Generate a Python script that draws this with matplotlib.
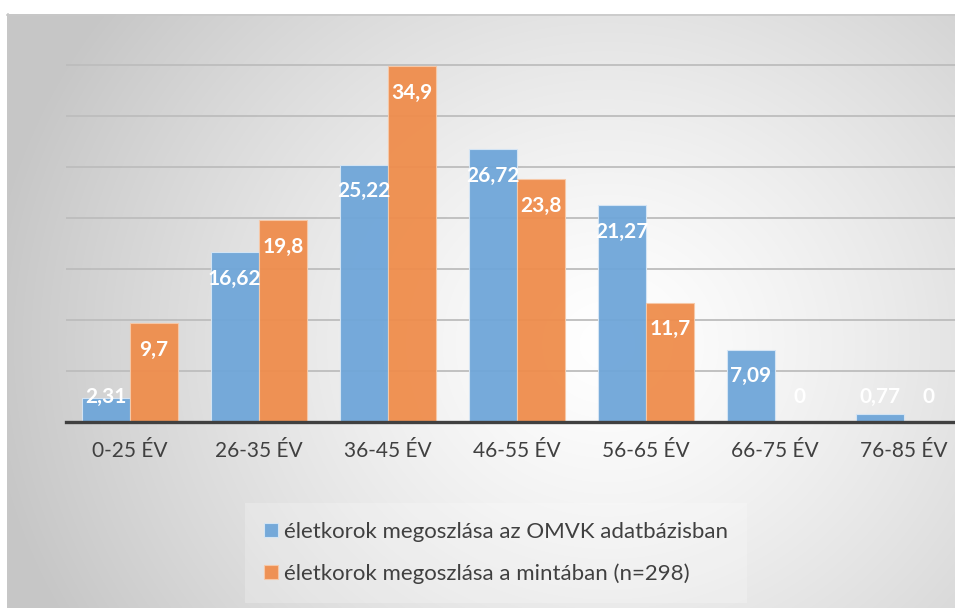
import matplotlib
matplotlib.use('Agg')
import matplotlib.pyplot as plt
import numpy as np

plt.rcParams['font.family'] = ['Lato', 'DejaVu Sans']

categories = ['0-25 ÉV', '26-35 ÉV', '36-45 ÉV', '46-55 ÉV', '56-65 ÉV', '66-75 ÉV', '76-85 ÉV']
omvk = [2.31, 16.62, 25.22, 26.72, 21.27, 7.09, 0.77]
minta = [9.7, 19.8, 34.9, 23.8, 11.7, 0, 0]
omvk_labels = ['2,31', '16,62', '25,22', '26,72', '21,27', '7,09', '0,77']
minta_labels = ['9,7', '19,8', '34,9', '23,8', '11,7', '0', '0']
series_names = ['életkorok megoszlása az OMVK adatbázisban',
                'életkorok megoszlása a mintában (n=298)']

blue = '#6fa6d9'
orange = '#ef8d4c'
text_color = '#404040'

W, H = 955, 608
fig = plt.figure(figsize=(W / 100, H / 100), dpi=100)
fig.patch.set_facecolor('white')

# radial gradient background of the chart area
bg = fig.add_axes([7 / W, 0, (W - 7) / W, (H - 14) / H])
bg.set_axis_off()
yy, xx = np.mgrid[0:594, 0:948]
cx, cy = 600, 330
d = np.sqrt((xx - cx) ** 2 + ((yy - cy) * 1.1) ** 2)
g = 1.0 - 0.22 * np.clip(d / 620, 0, 1) ** 1.3
bg.imshow(np.dstack([g, g, g]), aspect='auto', interpolation='bilinear')
# border lines
fig.add_artist(plt.Line2D([7 / W, 1], [(H - 14.5) / H] * 2, color='#c8c8c8', lw=1.2))
fig.add_artist(plt.Line2D([7.5 / W] * 2, [0, (H - 14) / H], color='#c8c8c8', lw=1.2))

# main axes
group_px = 129
left_px = 65.5
base_px = 422
px_per_unit = 10.2
ymax = 36
ax = fig.add_axes([left_px / W, (H - base_px) / H, 7 * group_px / W, ymax * px_per_unit / H])
ax.set_facecolor('none')
ax.set_xlim(-0.5, 6.5)
ax.set_ylim(0, ymax)

x = np.arange(len(categories))
off = 0.187
bw = 0.37
ax.bar(x - off, omvk, bw, color=blue, alpha=0.95, edgecolor='#d6e6f5', linewidth=0.8,
       label=series_names[0], zorder=3)
ax.bar(x + off, minta, bw, color=orange, alpha=0.95, edgecolor='#f7c9a8', linewidth=0.8,
       label=series_names[1], zorder=3)

for i in range(len(categories)):
    ax.text(x[i] - off, max(omvk[i] - 2.6, 2.45), omvk_labels[i], ha='center', va='center',
            color='white', fontsize=15, fontweight='bold', zorder=5)
    ax.text(x[i] + off, max(minta[i] - 2.6, 2.45), minta_labels[i], ha='center', va='center',
            color='white', fontsize=15, fontweight='bold', zorder=5)

for yv in range(5, 36, 5):
    ax.axhline(yv, color='#bdbdbd', lw=1.3, zorder=1)
ax.axhline(0, color='#404040', lw=2.4, zorder=4, clip_on=False)

for s in ax.spines.values():
    s.set_visible(False)
ax.set_yticks([])
ax.set_xticks(x)
ax.set_xticklabels(categories, fontsize=15, color=text_color)
ax.tick_params(axis='x', length=0, pad=14)

leg = fig.legend(loc='upper left', bbox_to_anchor=(252 / W, (H - 510) / H), ncol=1,
                 fontsize=16, frameon=True, handlelength=0.6, handleheight=0.6,
                 handletextpad=0.3, labelspacing=0.95, borderpad=0.55, borderaxespad=0)
leg.get_frame().set_facecolor('white')
leg.get_frame().set_alpha(0.22)
leg.get_frame().set_edgecolor('none')
leg.get_frame().set_boxstyle('square')
for t in leg.get_texts():
    t.set_color(text_color)

fig.savefig('out.png', dpi=100)
